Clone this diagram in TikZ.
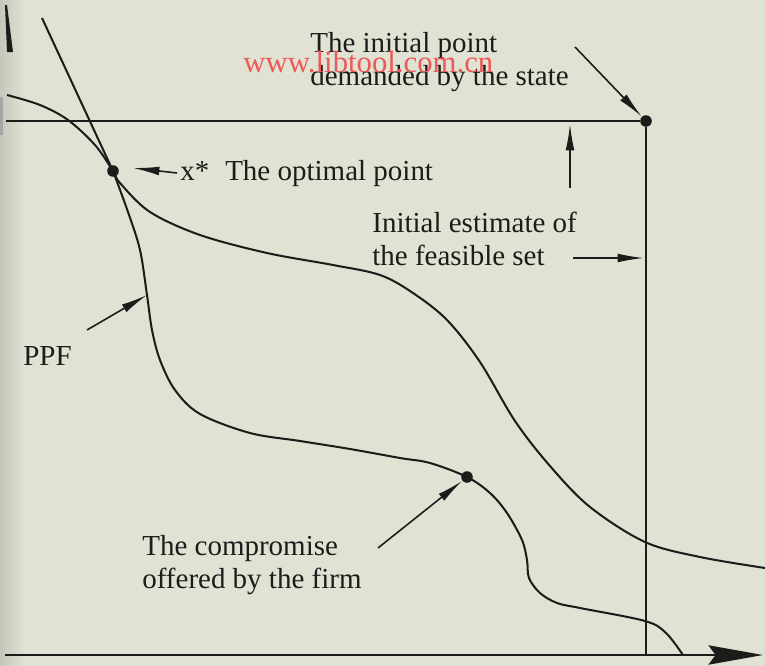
\documentclass[tikz,border=0pt]{standalone}
\usepackage{fontspec}
\setmainfont{Liberation Serif}
\usetikzlibrary{arrows.meta}

\definecolor{paper}{RGB}{224,226,212}
\definecolor{ink}{RGB}{28,28,26}
\definecolor{stamp}{RGB}{238,88,88}

\begin{document}
\begin{tikzpicture}[
  x=0.02cm, y=-0.02cm,
  font=\fontsize{16.5}{18.7}\selectfont,
  >={Latex[length=15pt,width=5pt]},
  curve/.style={draw=ink, line width=1.15pt},
  frame/.style={draw=ink, line width=1.35pt},
  pointer/.style={->, draw=ink, line width=0.9pt},
  dot/.style={circle, fill=ink, inner sep=0pt, minimum size=6.6pt},
  lbl/.style={text=ink, align=left, inner sep=0pt, anchor=base west}
]
% page
\fill[paper] (0,0) rectangle (765,666);
\shade[left color=paper!88!black, right color=paper] (0,0) rectangle (24,666);
\useasboundingbox (0,0) rectangle (765,666);

% remains of the vertical axis
\fill[ink] (5,5) -- (7,5) -- (13,52) -- (7,52) -- cycle;
\fill[gray!70] (0,97) rectangle (3,135);

% points
\node[dot] (xopt) at (113,171) {};
\node[dot] (init) at (646,121) {};
\node[dot] (comp) at (467,477) {};
\coordinate (origin) at (5,655);
\coordinate (xend) at (763,655);
\coordinate (ytop) at (6,121);
\coordinate (slope) at (42,18);

% axis and initial feasible set
\draw[frame, -{Stealth[length=31pt,width=11pt,inset=4pt]}] (origin) -- (xend);
\draw[frame] (ytop) -- (init);
\draw[frame] (init) -- (init |- origin);

% tangent line and curves
\draw[curve] (slope) -- (xopt.center);
\draw[curve] plot[smooth, tension=0.55] coordinates {(7,95) (40,105) (68,120) (95,145) (xopt.center)
  (120,183) (150,212) (200,235) (267,253) (333,265) (380,275) (413,293) (447,320) (480,362)
  (515,421) (550,466) (590,507) (645,542) (700,557) (765,568)};
\draw[curve] plot[smooth, tension=0.55] coordinates {(xopt.center) (128,212) (140,250) (147,295)
  (152,330) (160,360) (175,390) (200,414) (250,433) (300,441) (350,449) (400,458) (430,463)
  (comp.center) (490,493) (507,513) (522,540) (527,560) (529,578) (540,593) (557,603)
  (580,608) (645,621) (666,633) (683,655)};

% labels
\node[lbl] (initlbl) at (310,85) {The initial point\\demanded by the state};
\node[lbl] (optlbl) at (180,180) {x*\hspace{0.55em}The optimal point};
\node[lbl] (estlbl) at (372,265) {Initial estimate of\\the feasible set};
\node[lbl] (ppflbl) at (23,365) {PPF};
\node[lbl] (complbl) at (142,588) {The compromise\\offered by the firm};

% pointers
\coordinate (initfrom) at (575,47);
\coordinate (upfrom) at (570,188);
\coordinate (upto) at (570,124);
\coordinate (setfrom) at (573,258);
\coordinate (setto) at (644,258);
\coordinate (optfrom) at (177,173);
\coordinate (optto) at (133,168);
\coordinate (ppffrom) at (87,330);
\coordinate (ppfto) at (147,295);
\coordinate (compfrom) at (378,548);
\draw[pointer] (initfrom) -- (init);
\draw[pointer] (upfrom) -- (upto);
\draw[pointer] (setfrom) -- (setto);
\draw[pointer] (optfrom) -- (optto);
\draw[pointer] (ppffrom) -- (ppfto);
\draw[pointer] (compfrom) -- (comp);

% stamp
\node[lbl, text=stamp, font=\fontsize{17.5}{20}\selectfont] (wm) at (243,72) {www.libtool.com.cn};
\end{tikzpicture}
\end{document}
